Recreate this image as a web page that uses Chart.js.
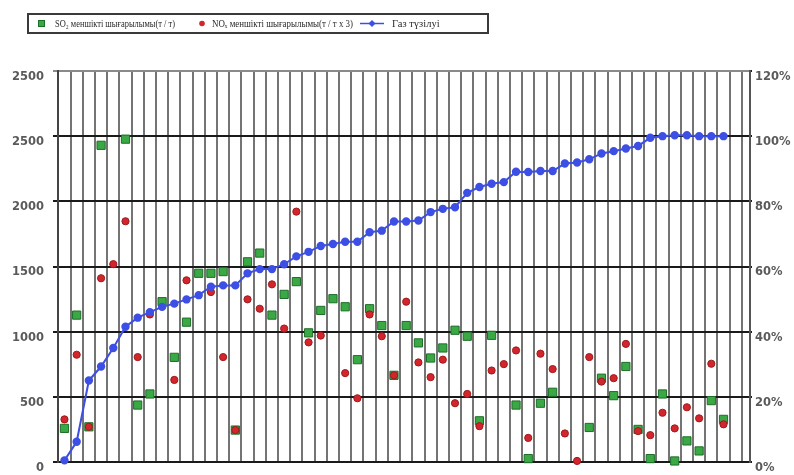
<!DOCTYPE html>
<html>
<head>
<meta charset="utf-8">
<script src="https://cdn.jsdelivr.net/npm/chart.js@4.4.1/dist/chart.umd.min.js"></script>
<style>
  html, body { margin: 0; padding: 0; background: #fff; }
</style>
</head>
<body>
<canvas id="chart" width="794" height="475"></canvas>
<script>
// legend captions
const so2Label = "SO₂ меншікті шығарылымы(т / т)";
const noxLabel = "NOₓ меншікті шығарылымы(т / т х 3)";
const gasLabel = "Газ түзілуі";

// specific SO2 emission per run, t/t (null = no reading)
const so2 = [
  258, 1127, 270, 2430, null, 2477, 437, 522, 1230, 803,
  1073, 1448, 1448, 1461, 245, 1536, 1603, 1127, 1286, 1384,
  991, 1163, 1253, 1191, 785, 1176, 1047, 665, 1047, 914,
  798, 875, 1011, 965, 316, 972, null, 437, 26, 451,
  535, null, null, 265, 643, 509, 733, 250, 26, 522,
  8, 162, 85, 471, 327
];

// specific NOx emission per run, t/t x 3
const nox = [
  327, 823, 270, 1410, 1518, 1847, 805, 1132, null, 630,
  1394, null, 1304, 805, 245, 1248, 1176, 1363, 1024, 1921,
  918, 970, null, 682, 489, 1132, 965, 665, 1230, 764,
  651, 785, 451, 522, 275, 702, 751, 856, 185, 831,
  713, 219, 8, 805, 617, 643, 906, 237, 206, 378,
  258, 420, 335, 754, 289
];

// cumulative gas formation, %
const gasYield = [
  0.5, 6.2, 25.0, 29.3, 35.0, 41.5, 44.3, 46.0, 47.6, 48.6,
  49.9, 51.2, 53.8, 54.2, 54.2, 57.9, 59.2, 59.2, 60.7, 63.1,
  64.5, 66.3, 66.9, 67.6, 67.6, 70.5, 71.0, 73.8, 73.8, 74.1,
  76.7, 77.7, 78.2, 82.6, 84.4, 85.4, 85.9, 89.1, 89.0, 89.3,
  89.3, 91.6, 91.9, 92.9, 94.7, 95.4, 96.2, 97.0, 99.5, 100,
  100.3, 100.3, 100, 100, 100
];

// axis tick labels (the top left tick is printed as 2500 on the sheet)
const leftTicks = ["0", "500", "1000", "1500", "2000", "2500", "2500"];
const rightTicks = ["0%", "20%", "40%", "60%", "80%", "100%", "120%"];

const GREEN = "#3aa845";
const GREEN_EDGE = "#1d6e27";
const RED = "#d3262c";
const RED_EDGE = "#9c1a1d";
const BLUE = "#3d4fe4";

const toPoints = (arr) => arr.map((v, i) => ({ x: i, y: v }));

const tickFont = { family: "DejaVu Sans", weight: "bold", size: 11.5 };

// boxed legend across the top
const legendBox = {
  id: "legendBox",
  afterDraw(chart) {
    const ctx = chart.ctx;
    const y = 23.5;
    ctx.save();
    ctx.strokeStyle = "#3a3a3a";
    ctx.lineWidth = 2;
    ctx.strokeRect(28, 14, 460, 19);

    // SO2 square
    ctx.fillStyle = GREEN;
    ctx.strokeStyle = GREEN_EDGE;
    ctx.lineWidth = 1;
    ctx.fillRect(38.5, 20.5, 6, 6);
    ctx.strokeRect(38.5, 20.5, 6, 6);

    // NOx dot
    ctx.fillStyle = RED;
    ctx.beginPath();
    ctx.arc(202, y, 2.8, 0, Math.PI * 2);
    ctx.fill();

    // gas line with marker
    ctx.strokeStyle = BLUE;
    ctx.lineWidth = 1.5;
    ctx.beginPath();
    ctx.moveTo(360, y);
    ctx.lineTo(384, y);
    ctx.stroke();
    ctx.fillStyle = BLUE;
    ctx.beginPath();
    ctx.moveTo(372, y - 3.5);
    ctx.lineTo(375.5, y);
    ctx.lineTo(372, y + 3.5);
    ctx.lineTo(368.5, y);
    ctx.closePath();
    ctx.fill();

    ctx.fillStyle = "#2a2a2a";
    ctx.font = '10.5px "Liberation Serif"';
    ctx.textBaseline = "middle";
    ctx.fillText(so2Label, 55, y + 0.5, 120);
    ctx.fillText(noxLabel, 212, y + 0.5, 141);
    ctx.fillText(gasLabel, 392, y + 0.5, 50);
    ctx.restore();
  }
};

// fixed axis widths; drop the label overhang so the plot reaches the bottom
const fitAxis = (width) => (scale) => {
  scale.width = width;
  scale.paddingTop = 0;
  scale.paddingBottom = 0;
};

new Chart(document.getElementById("chart"), {
  type: "scatter",
  data: {
    datasets: [
      {
        label: so2Label,
        data: toPoints(so2),
        pointStyle: "rect",
        pointRadius: 5.8,
        backgroundColor: GREEN,
        borderColor: GREEN_EDGE,
        borderWidth: 1,
        yAxisID: "y",
        clip: false,
        order: 2
      },
      {
        label: noxLabel,
        data: toPoints(nox),
        pointStyle: "circle",
        pointRadius: 3.6,
        backgroundColor: RED,
        borderColor: RED_EDGE,
        borderWidth: 1,
        yAxisID: "y",
        clip: false,
        order: 1
      },
      {
        label: gasLabel,
        data: toPoints(gasYield),
        showLine: true,
        borderColor: BLUE,
        borderWidth: 2,
        pointStyle: "circle",
        pointRadius: 3.2,
        pointBackgroundColor: BLUE,
        pointBorderColor: BLUE,
        yAxisID: "y1",
        clip: false,
        order: 0
      }
    ]
  },
  options: {
    responsive: false,
    devicePixelRatio: 1,
    animation: false,
    layout: { padding: { top: 71, left: 0, right: 0, bottom: 0 } },
    plugins: {
      legend: { display: false },
      tooltip: { enabled: false }
    },
    scales: {
      x: {
        type: "linear",
        min: -0.53,
        max: 56.17,
        afterBuildTicks: (scale) => {
          // one vertical rule between every pair of runs
          const t = [];
          for (let k = 0; k <= 56; k++) t.push({ value: k - 0.5 });
          scale.ticks = t;
        },
        afterFit: (scale) => { scale.height = 13; },
        ticks: { display: false },
        grid: { color: "#747474", lineWidth: 2, drawTicks: false },
        border: { display: true, color: "#1a1a1a", width: 2 }
      },
      y: {
        position: "left",
        min: 0,
        max: 3000,
        afterFit: fitAxis(58),
        ticks: {
          stepSize: 500,
          callback: (v, i) => leftTicks[i],
          font: tickFont,
          color: "#5a5a5a",
          padding: 9,
          labelOffset: 6
        },
        grid: {
          color: (c) => (c.tick && c.tick.value === 3000 ? "#8a8a8a" : "#1a1a1a"),
          lineWidth: 2,
          tickLength: 5
        },
        border: { color: "#444", width: 2 }
      },
      y1: {
        position: "right",
        min: 0,
        max: 120,
        afterFit: fitAxis(44),
        ticks: {
          stepSize: 20,
          callback: (v, i) => rightTicks[i],
          font: tickFont,
          color: "#5a5a5a",
          padding: 3,
          labelOffset: 6
        },
        grid: { drawOnChartArea: false, color: "#1a1a1a", lineWidth: 2, tickLength: 2 },
        border: { color: "#555", width: 2 }
      }
    }
  },
  plugins: [legendBox]
});
</script>
</body>
</html>
